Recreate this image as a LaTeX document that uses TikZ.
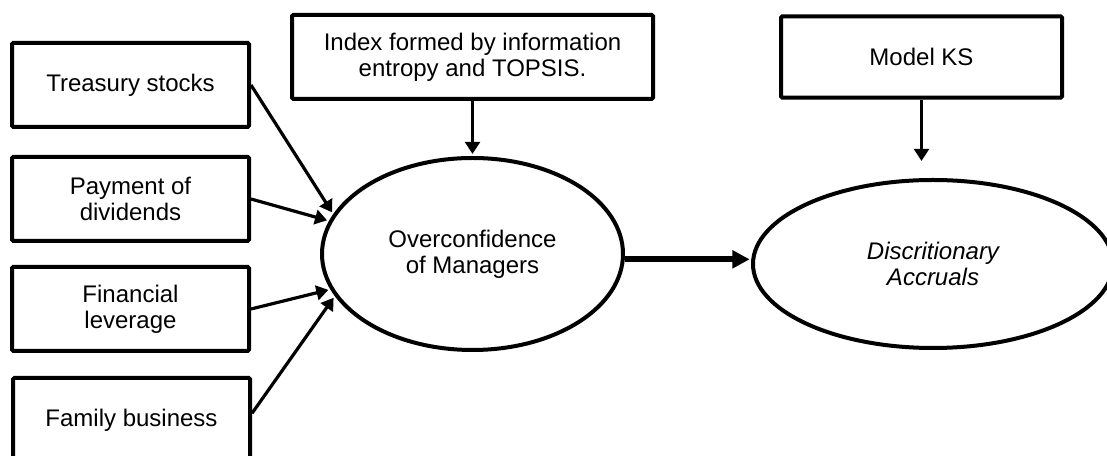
\documentclass[tikz,border=0pt]{standalone}
\usepackage{fontspec}
\setmainfont{Liberation Sans}
\usetikzlibrary{shapes.geometric,arrows.meta}

\begin{document}
\begin{tikzpicture}[x=0.75pt,y=0.75pt,font=\fontsize{18}{19.5}\selectfont,
  varbox/.style={draw,line width=3pt,rounded corners=1pt,align=center,inner sep=0pt,minimum width=#1,minimum height=63pt},
  varbox/.default=177.75pt,
  varell/.style={ellipse,draw,line width=3pt,align=center,inner sep=0pt},
  arr/.style={line width=2.4pt,-{Triangle[length=9pt,width=11pt]},shorten >=1.5pt}]
\useasboundingbox (0,0) rectangle (1107,456);
\clip (0,0) rectangle (1107,456);
% left side: the four proxies
\node[varbox] (treasury) at (130.5,371) {Treasury stocks};
\node[varbox] (payment) at (130.5,257) {Payment of\\dividends};
\node[varbox] (leverage) at (130.5,147) {Financial\\leverage};
\node[varbox] (family) at (131.5,36) {Family business};
% top boxes
\node[varbox=270.75pt] (index) at (472.5,399) {Index formed by information\\entropy and TOPSIS.};
\node[varbox=210.75pt,minimum height=61pt] (model) at (921.5,399) {Model KS};
% the two variables
\node[varell,minimum width=225.75pt,minimum height=144pt] (over) at (472.5,202) {Overconfidence\\of Managers};
\node[varell,minimum width=270pt,minimum height=126pt,font=\fontsize{18}{19.5}\selectfont\itshape] (disc) at (933,192) {Discritionary\\Accruals};
\coordinate (kstip) at (921.5,293);
\draw[arr] (treasury.east) -- (over.164.7);
\draw[arr] (payment.east) -- (over.167.8);
\draw[arr] (leverage.east) -- (over.194.5);
\draw[arr] ([yshift=5pt]family.east) -- (over.197.9);
\draw[arr] (index.south) -- (over.north);
\draw[arr] (model.south) -- (kstip);
\draw[line width=4.5pt,-{Triangle[length=13pt,width=13pt]},shorten >=1pt] ([yshift=-4pt]over.east) -- ([yshift=-4pt]over.east -| disc.west);
\end{tikzpicture}
\end{document}
